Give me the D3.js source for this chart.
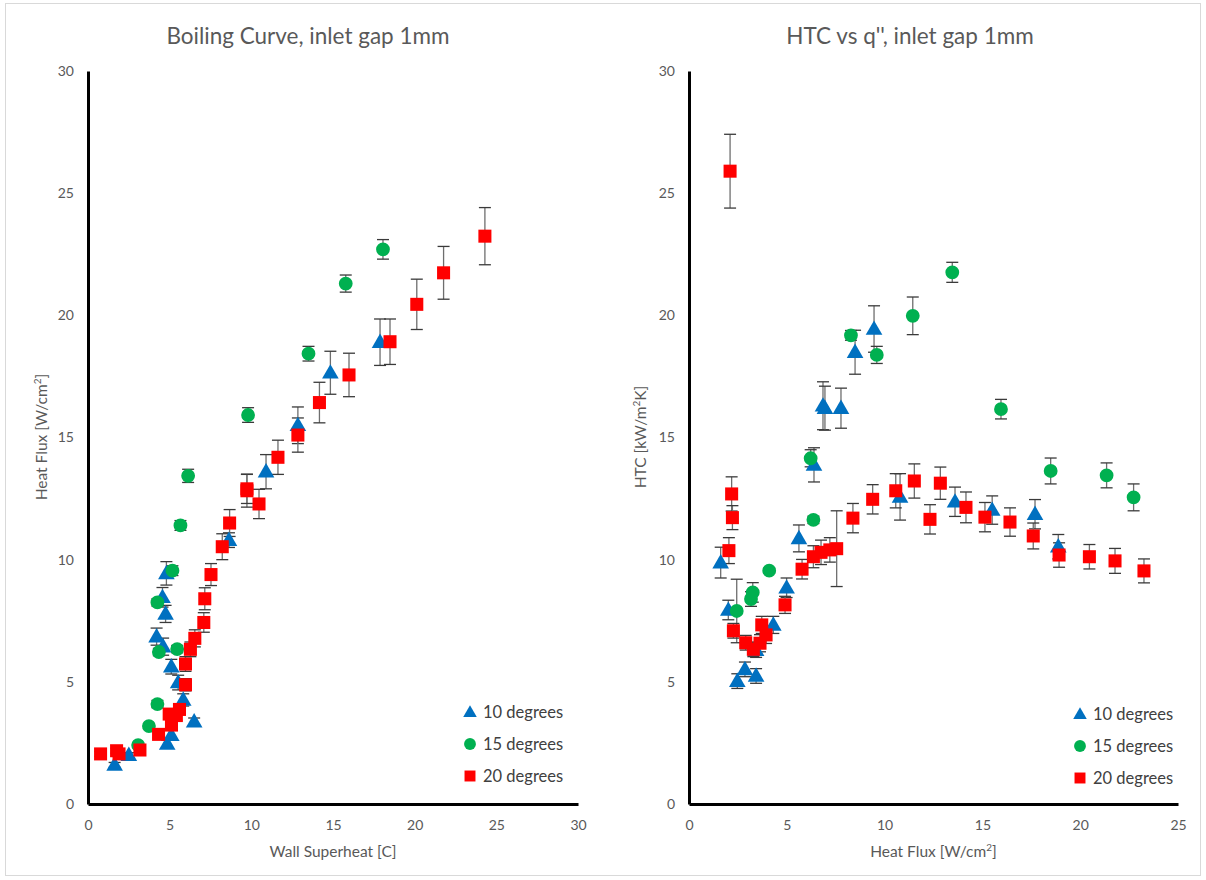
<!DOCTYPE html>
<html>
<head>
<meta charset="utf-8">
<script src="https://cdn.jsdelivr.net/npm/d3@7"></script>
<style>
html,body{margin:0;padding:0;background:#fff;}
svg{display:block;font-family:Lato,"Open Sans",sans-serif;}
</style>
</head>
<body>
<svg id="c" width="1206" height="880"></svg>
<script>
// ---------- data: [x, y, error] ----------
const seriesNames = ["10 degrees", "15 degrees", "20 degrees"];
const tickValues = [0, 5, 10, 15, 20, 25, 30];
const tickValuesRight = [0, 5, 10, 15, 20, 25];

// Boiling curve: wall superheat [C] vs heat flux [W/cm2]
const boil10 = [[1.63,1.6,0.1],[2.5,2.0,0.1],[4.85,2.46,0.15],[5.1,2.82,0.2],[6.5,3.37,0.15],[5.83,4.26,0.25],[5.52,4.97,0.3],[5.1,5.62,0.3],[4.6,6.44,0.35],[4.2,6.85,0.35],[4.75,7.78,0.35],[4.56,8.46,0.4],[4.8,9.44,0.48],[8.63,10.8,0.3],[10.9,13.6,0.7],[12.85,15.5,0.75],[14.84,17.65,0.88],[17.88,18.9,0.95]];
const boil15 = [[3.07,2.41,0.1],[3.73,3.19,0.1],[4.25,4.09,0.15],[4.34,6.22,0.15],[5.46,6.34,0.15],[4.25,8.25,0.15],[5.17,9.55,0.2],[5.66,11.4,0.2],[6.13,13.43,0.27],[9.8,15.92,0.3],[13.5,18.43,0.3],[15.78,21.3,0.35],[18.06,22.7,0.4]];
const boil20 = [[0.77,2.05,0.1],[1.75,2.18,0.1],[1.9,2.05,0.1],[3.18,2.21,0.1],[4.32,2.85,0.15],[5.11,3.23,0.2],[4.97,3.68,0.2],[5.6,3.87,0.2],[5.41,3.62,0.2],[5.97,4.88,0.25],[5.97,5.73,0.3],[6.27,6.33,0.3],[6.54,6.78,0.35],[7.09,7.43,0.4],[7.15,8.4,0.45],[7.53,9.39,0.45],[8.22,10.53,0.53],[8.67,11.5,0.55],[9.73,12.82,0.67],[9.73,12.9,0.6],[10.47,12.28,0.6],[11.63,14.19,0.7],[12.85,15.1,0.7],[14.17,16.43,0.83],[15.98,17.56,0.89],[18.49,18.92,0.93],[20.13,20.45,1.03],[21.77,21.74,1.08],[24.3,23.24,1.17]];

// HTC vs q'': heat flux [W/cm2] vs HTC [kW/m2K]
const htc10 = [[1.62,9.88,0.63],[2.01,7.94,0.4],[2.47,5.03,0.3],[2.86,5.51,0.3],[3.43,5.24,0.3],[3.43,6.3,0.3],[4.31,7.33,0.35],[4.99,8.85,0.4],[5.62,10.87,0.55],[6.39,13.88,0.7],[6.85,16.3,0.98],[6.95,16.2,0.9],[7.77,16.2,0.82],[8.49,18.49,0.9],[9.46,19.44,0.95],[10.79,12.57,0.95],[13.6,12.37,0.6],[15.5,12.03,0.58],[17.69,11.86,0.6],[18.88,10.53,0.5]];
const htc15 = [[2.44,7.9,1.3],[3.17,8.39,0.3],[3.26,8.66,0.4],[4.1,9.55,0.1],[6.22,14.15,0.35],[6.36,11.63,0.15],[8.28,19.18,0.2],[9.6,18.38,0.35],[11.44,19.98,0.77],[13.46,21.76,0.41],[15.95,16.16,0.4],[18.49,13.63,0.53],[21.35,13.45,0.51],[22.73,12.55,0.55]];
const htc20 = [[2.1,25.9,1.51],[2.18,12.69,0.7],[2.22,11.72,0.49],[2.04,10.37,0.53],[2.27,7.09,0.3],[2.9,6.6,0.3],[3.29,6.33,0.3],[3.63,6.58,0.35],[3.72,7.33,0.35],[3.94,6.92,0.35],[4.91,8.15,0.35],[5.78,9.61,0.4],[6.36,10.12,0.45],[6.75,10.3,0.5],[7.2,10.4,0.5],[7.55,10.45,1.55],[8.38,11.7,0.6],[9.39,12.47,0.6],[10.57,12.82,0.7],[11.52,13.22,0.7],[12.32,11.65,0.6],[12.85,13.13,0.66],[14.16,12.14,0.63],[15.13,11.74,0.6],[16.41,11.54,0.58],[17.6,10.97,0.53],[18.92,10.19,0.5],[20.47,10.12,0.5],[21.78,9.95,0.51],[23.26,9.54,0.49]];

// ---------- drawing ----------
const svg = d3.select("#c");
const colors = ["#0070C0", "#00B050", "#FF0000"];
const shapes = [d3.symbolTriangle, d3.symbolCircle, d3.symbolSquare];
const sizes = [120, 150, 170];

svg.append("rect").attr("x", 5.5).attr("y", 3.5).attr("width", 1195).attr("height", 872)
  .attr("fill", "none").attr("stroke", "#d9d9d9").attr("stroke-width", 1);

function panel(opts) {
  const x = d3.scaleLinear().domain(opts.xDomain).range(opts.xRange);
  const y = d3.scaleLinear().domain([0, 30]).range([804, 71]);
  const g = svg.append("g");

  // title
  g.append("text").attr("x", opts.titleX).attr("y", 44).attr("text-anchor", "middle")
    .attr("font-size", 22.5).attr("fill", "#595959").text(opts.title);

  // axes
  const xa = g.append("g").attr("transform", "translate(0,804)")
    .call(d3.axisBottom(x).tickValues(opts.xTicks).tickSize(0).tickPadding(16));
  const ya = g.append("g").attr("transform", `translate(${opts.xRange[0]},0)`)
    .call(d3.axisLeft(y).tickValues(tickValues).tickSize(0).tickPadding(14));
  [xa, ya].forEach(a => {
    a.select(".domain").attr("stroke", "#000").attr("stroke-width", 3);
    a.selectAll("text").attr("font-size", 14).attr("fill", "#595959")
      .attr("font-family", "Lato, 'Open Sans', sans-serif");
  });

  // axis titles
  g.append("text").attr("x", (opts.xRange[0] + opts.xRange[1]) / 2).attr("y", 857)
    .attr("text-anchor", "middle").attr("font-size", 15.5).attr("fill", "#595959")
    .html(opts.xLabel);
  g.append("text").attr("transform", `translate(${opts.yLabelX},437) rotate(-90)`)
    .attr("text-anchor", "middle").attr("font-size", 15.5).attr("fill", "#595959")
    .html(opts.yLabel);

  // error bars
  opts.series.forEach(s => {
    const eb = g.append("g").attr("stroke", "#3a3a3a").attr("stroke-width", 1.3);
    s.forEach(d => {
      const cx = x(d[0]), y1 = y(d[1] + d[2]), y2 = y(d[1] - d[2]);
      eb.append("line").attr("x1", cx).attr("x2", cx).attr("y1", y1).attr("y2", y2).attr("stroke", "#6e6e6e");
      eb.append("line").attr("x1", cx - 6).attr("x2", cx + 6).attr("y1", y1).attr("y2", y1);
      eb.append("line").attr("x1", cx - 6).attr("x2", cx + 6).attr("y1", y2).attr("y2", y2);
    });
  });

  // markers
  opts.series.forEach((s, i) => {
    g.append("g").selectAll("path").data(s).join("path")
      .attr("transform", d => `translate(${x(d[0])},${y(d[1]) + (i === 0 ? 1 : 0)})`)
      .attr("d", d3.symbol().type(shapes[i]).size(sizes[i]))
      .attr("fill", colors[i]);
  });

  // legend
  seriesNames.forEach((n, i) => {
    const ly = opts.legendY + i * 32;
    g.append("path").attr("transform", `translate(${opts.legendX},${ly + (i === 0 ? 1 : 0)})`)
      .attr("d", d3.symbol().type(shapes[i]).size(i === 0 ? 80 : (i === 1 ? 110 : 120)))
      .attr("fill", colors[i]);
    g.append("text").attr("x", opts.legendX + 13).attr("y", ly + 6)
      .attr("font-size", 16.5).attr("fill", "#404040").text(n);
  });
}

panel({
  title: "Boiling Curve, inlet gap 1mm", titleX: 308,
  xDomain: [0, 30], xRange: [88, 578], xTicks: tickValues,
  xLabel: "Wall Superheat [C]",
  yLabel: "Heat Flux [W/cm<tspan baseline-shift='super' font-size='10'>2</tspan>]",
  yLabelX: 47,
  series: [boil10, boil15, boil20],
  legendX: 470, legendY: 712
});

panel({
  title: "HTC vs q'', inlet gap 1mm", titleX: 910,
  xDomain: [0, 25], xRange: [689, 1178], xTicks: tickValuesRight,
  xLabel: "Heat Flux [W/cm<tspan baseline-shift='super' font-size='10'>2</tspan>]",
  yLabel: "HTC [kW/m<tspan baseline-shift='super' font-size='10'>2</tspan>K]",
  yLabelX: 646,
  series: [htc10, htc15, htc20],
  legendX: 1080, legendY: 714
});
</script>
</body>
</html>
